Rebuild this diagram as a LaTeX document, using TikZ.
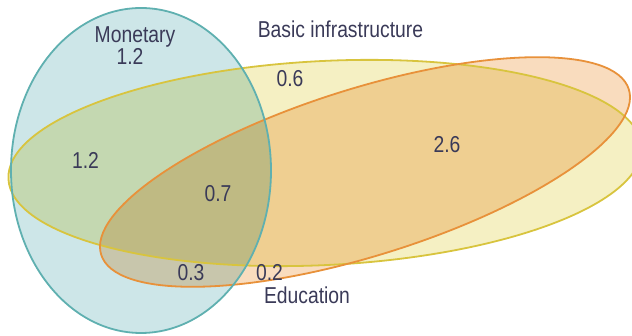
\documentclass[tikz,border=0pt]{standalone}
\usepackage{fontspec}
\setmainfont{Liberation Sans}[FakeStretch=0.84]
\begin{document}
\begin{tikzpicture}[x=1pt,y=1pt,
  lbl/.style={anchor=base,inner sep=0pt,text=txtc,font=\fontsize{23}{26}\selectfont},
  setline/.style={line width=1.8pt}]
\definecolor{txtc}{HTML}{3A3A58}
\definecolor{tealfill}{HTML}{CDE6E8}
\definecolor{tealline}{HTML}{5FB0B0}
\definecolor{yelfill}{HTML}{F5F0C3}
\definecolor{yelline}{HTML}{D8C43E}
\definecolor{orafill}{HTML}{F9DCBE}
\definecolor{oraline}{HTML}{E8913A}
\useasboundingbox (0,0) rectangle (632,336);
\clip (0,0) rectangle (632,336);
% fills
\begin{scope}[blend group=multiply]
  \fill[tealfill] (141,165.5) ellipse [x radius=130, y radius=162.5];
  \fill[yelfill, rotate around={2.9:(325,173)}] (325,173) ellipse [x radius=317, y radius=102];
  \fill[orafill, rotate around={17.4:(365,164)}] (365,164) ellipse [x radius=276.5, y radius=83.5];
\end{scope}
% outlines
\draw[setline, yelline, rotate around={2.9:(325,173)}] (325,173) ellipse [x radius=317, y radius=102];
\draw[setline, oraline, rotate around={17.4:(365,164)}] (365,164) ellipse [x radius=276.5, y radius=83.5];
\draw[setline, tealline] (141,165.5) ellipse [x radius=130, y radius=162.5];
% labels
\node[lbl] (mon) at (135,293) {Monetary};
\node[lbl] (m12) at (130,271) {1.2};
\node[lbl] (basic) at (340.5,298) {Basic infrastructure};
\node[lbl] (b06) at (290,249) {0.6};
\node[lbl] (l12) at (85.5,167) {1.2};
\node[lbl] (c07) at (218,134) {0.7};
\node[lbl] (e26) at (447,183) {2.6};
\node[lbl] (e03) at (191,55) {0.3};
\node[lbl] (e02) at (269.5,55) {0.2};
\node[lbl] (edu) at (307,32) {Education};
\end{tikzpicture}
\end{document}
